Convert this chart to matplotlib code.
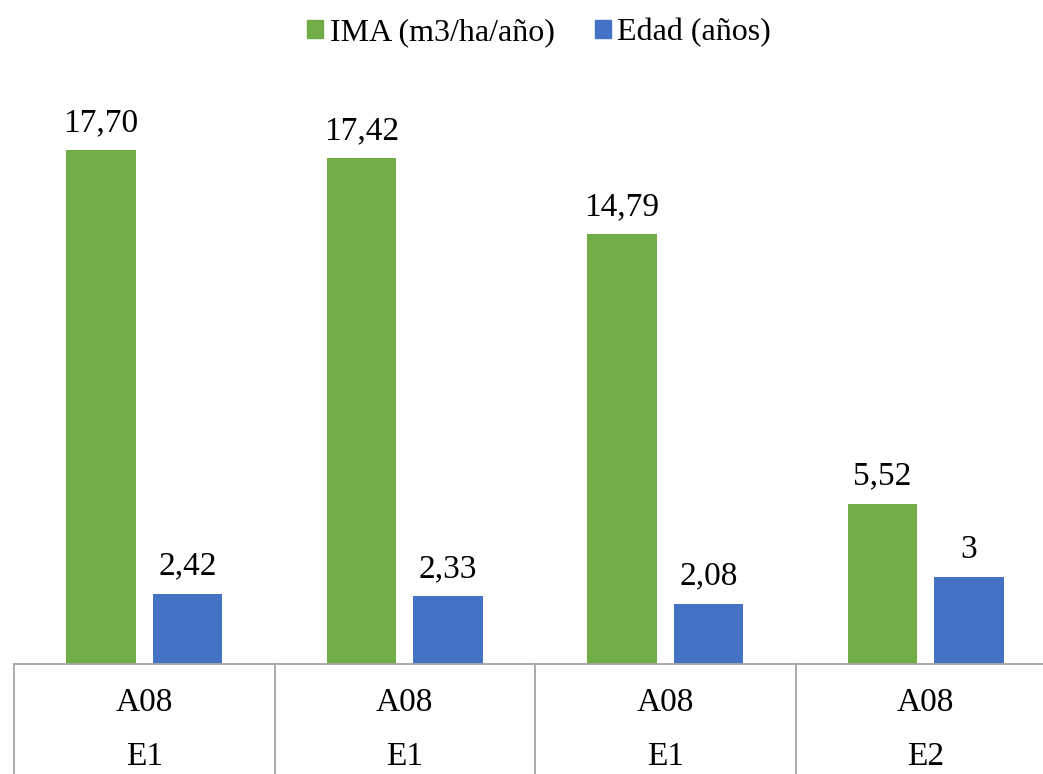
import matplotlib
matplotlib.use("Agg")
import matplotlib.pyplot as plt
from matplotlib.patches import Patch
from matplotlib.lines import Line2D
import matplotlib.transforms as mtransforms

# Data
cat_top = ["A08", "A08", "A08", "A08"]
cat_bottom = ["E1", "E1", "E1", "E2"]
ima = [17.70, 17.42, 14.79, 5.52]
edad = [2.42, 2.33, 2.08, 3]
series_names = ["IMA (m3/ha/año)", "Edad (años)"]

GREEN = "#70AD47"
BLUE = "#4472C4"
GRID = "#A6A6A6"

plt.rcParams["font.family"] = ["Liberation Serif", "DejaVu Serif"]

W, H = 1043, 774
fig = plt.figure(figsize=(W / 100, H / 100), dpi=100)
# plot area: left edge at x=14 px, baseline at y=664 px, 4 groups of 260.5 px
ax = fig.add_axes([14 / W, 110 / H, 1042 / W, 580.8 / H])

x = list(range(len(ima)))
bw = 0.265
off = 0.166


def fmt(v):
    if float(v).is_integer():
        return str(int(v))
    return f"{v:.2f}".replace(".", ",")


b1 = ax.bar([i - off for i in x], ima, width=bw, color=GREEN, zorder=2)
b2 = ax.bar([i + off for i in x], edad, width=bw, color=BLUE, zorder=2)

for bars, vals in ((b1, ima), (b2, edad)):
    for r, v in zip(bars, vals):
        ax.annotate(fmt(v), (r.get_x() + r.get_width() / 2, r.get_height()),
                    xytext=(0, 12), textcoords="offset pixels",
                    ha="center", va="bottom", fontsize=24, color="black")

ax.set_xlim(-0.5, len(ima) - 0.5)
ax.set_ylim(0, 20)
for s in ("top", "right", "left"):
    ax.spines[s].set_visible(False)
ax.spines["bottom"].set_color(GRID)
ax.spines["bottom"].set_linewidth(1.3)
ax.set_xticks([])
ax.set_yticks([])

# category table below the axis
trans = mtransforms.blended_transform_factory(ax.transData, ax.transAxes)
px = 1 / 580.8
for b in [i - 0.5 for i in range(len(ima) + 1)]:
    ax.add_line(Line2D([b, b], [0, -120 * px], transform=trans, color=GRID,
                       lw=1.3, clip_on=False))
for i, (t, btm) in enumerate(zip(cat_top, cat_bottom)):
    ax.text(i, -39 * px, t, transform=trans, ha="center", va="center",
            fontsize=24)
    ax.text(i, -93 * px, btm, transform=trans, ha="center", va="center",
            fontsize=24)

handles = [Patch(color=GREEN), Patch(color=BLUE)]
fig.legend(handles, series_names, loc="center", bbox_to_anchor=(539 / W, 1 - 33 / H),
           ncol=2, frameon=False, fontsize=23, handlelength=0.5, handleheight=0.5,
           handletextpad=0.2, columnspacing=1.25)

fig.savefig("out.png", dpi=100)
